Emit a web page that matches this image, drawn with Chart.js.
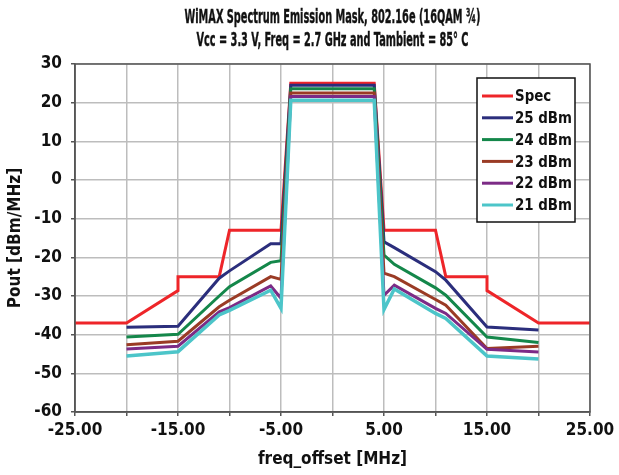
<!DOCTYPE html>
<html lang="en">
<head>
  <meta charset="UTF-8">
  <title>WiMAX Spectrum Emission Mask</title>
  <script src="https://cdn.jsdelivr.net/npm/chart.js"></script>
  <style>
    html, body {
      margin: 0;
      padding: 0;
      background: #ffffff;
    }

    .chart-container {
      position: relative;
      width: 619px;
      height: 475px;
    }
  </style>
</head>
<body>
  <div class="chart-container">
    <canvas id="maskChart"></canvas>
  </div>

  <script>
    // mask limit (own x points)
    const specX = [-25, -20, -15, -15, -11, -10, -5, -4.05, 4.05, 5, 10, 11, 15, 15, 20, 25];
    const specY = [-37, -37, -28.6, -25, -25, -13, -13, 25, 25, -13, -13, -25, -25, -28.6, -37, -37];

    // measured offsets shared by all output levels
    const measX = [-20, -15, -11, -10, -6, -5, -4.05, 4.05, 5, 6, 10, 11, 15, 20];
    const dbm25 = [-38.1, -37.8, -25.4, -23.5, -16.5, -16.5, 24.5, 24.5, -16.0, -17.5, -23.7, -25.9, -38.0, -38.8];
    const dbm24 = [-40.6, -39.9, -30.0, -27.6, -21.3, -20.9, 23.6, 23.6, -19.4, -21.8, -27.9, -29.8, -40.6, -42.0];
    const dbm23 = [-42.6, -41.7, -32.8, -31.1, -25.0, -25.7, 22.5, 22.5, -24.1, -25.0, -30.9, -32.4, -43.6, -43.0];
    const dbm22 = [-43.7, -43.0, -34.1, -33.0, -27.4, -30.6, 21.6, 21.6, -29.8, -27.2, -33.2, -34.5, -43.8, -44.5];
    const dbm21 = [-45.5, -44.4, -34.9, -33.7, -28.5, -33.2, 20.6, 20.6, -33.5, -28.2, -34.5, -35.8, -45.5, -46.3];

    const seriesNames = ['Spec', '25 dBm', '24 dBm', '23 dBm', '22 dBm', '21 dBm'];
    const seriesColors = ['#ee2529', '#2b2e7c', '#14874a', '#9a3b25', '#7c2b86', '#4cc5c9'];

    const titleLines = [
      'WiMAX Spectrum Emission Mask, 802.16e (16QAM \u00be)',
      'Vcc = 3.3 V, Freq = 2.7 GHz and Tambient = 85\u00b0 C'
    ];

    const FONT = "'Liberation Sans Narrow', 'DejaVu Sans Condensed', 'Roboto Condensed', sans-serif";

    const toPoints = (xs, ys) => xs.map((x, i) => ({ x: x, y: ys[i] }));

    const allY = [specY, dbm25, dbm24, dbm23, dbm22, dbm21];
    const datasets = allY.map((ys, i) => ({
      label: seriesNames[i],
      data: toPoints(i === 0 ? specX : measX, ys),
      borderColor: seriesColors[i],
      backgroundColor: seriesColors[i],
      borderWidth: i === 5 ? 3.5 : 3,
      pointRadius: 0,
      tension: 0,
      order: 6 - i
    }));

    // draw text squeezed horizontally to a target width (reference font is very condensed)
    function squeezedText(ctx, text, cx, cy, width) {
      const w = ctx.measureText(text).width;
      const sx = Math.min(1, width / w);
      ctx.save();
      ctx.translate(cx, cy);
      ctx.scale(sx, 1);
      ctx.lineWidth = 0.4;
      ctx.strokeStyle = ctx.fillStyle;
      ctx.strokeText(text, 0, 0);
      ctx.fillText(text, 0, 0);
      ctx.restore();
    }

    // title, plot frame and boxed legend drawn on the canvas
    const extras = {
      id: 'extras',
      afterDatasetsDraw(chart) {
        const { ctx, chartArea } = chart;
        ctx.save();
        ctx.strokeStyle = '#555';
        ctx.lineWidth = 1.5;
        ctx.strokeRect(chartArea.left, chartArea.top, chartArea.right - chartArea.left, chartArea.bottom - chartArea.top);

        // legend
        const lx = chartArea.right - 113, ly = 78, lw = 98, lh = 144;
        ctx.fillStyle = '#fff';
        ctx.fillRect(lx, ly, lw, lh);
        ctx.strokeStyle = '#111';
        ctx.lineWidth = 1.5;
        ctx.strokeRect(lx, ly, lw, lh);
        ctx.font = 'bold 16px ' + FONT;
        ctx.textBaseline = 'middle';
        ctx.textAlign = 'left';
        seriesNames.forEach((name, i) => {
          const y = ly + 18 + i * 21.8;
          ctx.strokeStyle = seriesColors[i];
          ctx.lineWidth = 3;
          ctx.beginPath();
          ctx.moveTo(lx + 5, y);
          ctx.lineTo(lx + 36, y);
          ctx.stroke();
          ctx.fillStyle = '#111';
          ctx.save();
          ctx.translate(lx + 38, y + 1);
          ctx.scale(0.93, 1);
          ctx.fillText(name, 0, 0);
          ctx.restore();
        });

        // title
        ctx.font = 'bold 20px ' + FONT;
        ctx.textAlign = 'center';
        ctx.fillStyle = '#111';
        const cx = (chartArea.left + chartArea.right) / 2;
        squeezedText(ctx, titleLines[0], cx, 18, 296);
        squeezedText(ctx, titleLines[1], cx, 41, 272);
        ctx.restore();
      }
    };

    const ctx = document.getElementById('maskChart').getContext('2d');
    new Chart(ctx, {
      type: 'line',
      data: { datasets: datasets },
      plugins: [extras],
      options: {
        responsive: true,
        maintainAspectRatio: false,
        animation: false,
        layout: {
          padding: { top: 64, right: 29, bottom: 0, left: 0 }
        },
        scales: {
          x: {
            type: 'linear',
            min: -25,
            max: 25,
            afterFit: scale => { scale.height = 63; },
            ticks: {
              stepSize: 5,
              autoSkip: false,
              maxRotation: 0,
              padding: 4,
              color: '#111',
              font: { family: FONT, size: 17, weight: 'bold' },
              callback: value => ((value + 25) % 10 === 0 ? value.toFixed(2) : '')
            },
            grid: {
              color: '#bdbdbd',
              lineWidth: 1.5,
              tickLength: 4,
              tickColor: '#555'
            },
            border: { color: '#555', width: 1.5 },
            title: {
              display: true,
              text: 'freq_offset [MHz]',
              color: '#111',
              font: { family: FONT, size: 17, weight: 'bold' },
              padding: { top: 0, bottom: 5 }
            }
          },
          y: {
            min: -60,
            max: 30,
            afterFit: scale => { scale.width = 75; },
            ticks: {
              stepSize: 10,
              padding: 9,
              color: '#111',
              font: { family: FONT, size: 17, weight: 'bold' }
            },
            grid: {
              color: '#bdbdbd',
              lineWidth: 1.5,
              tickLength: 4,
              tickColor: '#555'
            },
            border: { color: '#555', width: 1.5 },
            title: {
              display: true,
              text: 'Pout [dBm/MHz]',
              color: '#111',
              font: { family: FONT, size: 17, weight: 'bold' },
              padding: { top: 5, bottom: 0 }
            }
          }
        },
        plugins: {
          legend: { display: false },
          tooltip: { enabled: false }
        }
      }
    });
  </script>
</body>
</html>
